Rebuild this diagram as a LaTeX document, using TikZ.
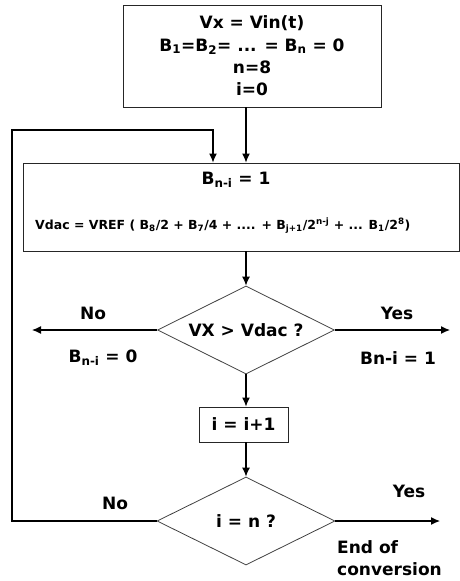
\documentclass[tikz,border=0pt]{standalone}
\usepackage{fontspec}
\setmainfont{DejaVu Sans}
\usetikzlibrary{shapes.geometric,arrows.meta}

\tikzset{
  box/.style={draw=black!85, line width=0.9pt, rectangle, inner sep=0pt},
  decision/.style={draw=black!75, line width=0.8pt, diamond, aspect=2, inner sep=0pt},
  flow/.style={line width=1.2pt, -{Latex[length=9pt,width=8pt]}},
  txt/.style={font=\fontsize{17}{22.3}\selectfont\bfseries, inner sep=0pt},
  small/.style={font=\fontsize{12.5}{15}\selectfont\bfseries, inner sep=0pt}
}

\begin{document}
\begin{tikzpicture}[x=1pt,y=-1pt]
    \useasboundingbox (0,0) rectangle (459,581);

    % start values
    \node [box, txt, minimum width=258pt, minimum height=102pt, align=center] (init) at (252,56)
        {Vx = Vin(t)\\B\textsubscript{1}=B\textsubscript{2}= ... = B\textsubscript{n} = 0\\n=8\\i=0};

    % set the bit, dac value
    \node [box, minimum width=436pt, minimum height=88pt] (setbit) at (241,207) {};
    \node [txt] (bitone) at (236,180) {B\textsubscript{n-i} = 1};
    \node [small, anchor=west] (vdac) at (35,226)
        {Vdac = VREF ( B\textsubscript{8}/2 + B\textsubscript{7}/4 + .... + B\textsubscript{j+1}/2\textsuperscript{n-j} + ... B\textsubscript{1}/2\textsuperscript{8})};

    % compare
    \node [decision, txt, minimum width=177pt, minimum height=88pt] (cmp) at (246,330) {VX > Vdac ?};
    \coordinate (noend) at (32,330);
    \coordinate (yesend) at (450,330);
    \node [txt] (nocmp) at (93,313) {No};
    \node [txt] (bitzero) at (103,358) {B\textsubscript{n-i} = 0};
    \node [txt] (yescmp) at (397,313) {Yes};
    \node [txt] (bitkeep) at (398,358) {Bn-i = 1};

    % next bit
    \node [box, txt, minimum width=89pt, minimum height=35pt] (incr) at (243.5,424.5) {i = i+1};

    % all bits done?
    \node [decision, txt, minimum width=178pt, minimum height=88pt] (last) at (246,521) {i = n ?};
    \coordinate (loopbot) at (12,521);
    \coordinate (looptop) at (12,130);
    \coordinate (loopin) at (213,130);
    \coordinate (done) at (440,521);
    \node [txt] (nolast) at (115,503) {No};
    \node [txt] (yeslast) at (409,491) {Yes};
    \node [txt, anchor=north west, align=left] (endconv) at (337,540) {End of\\conversion};

    \draw [flow] (init.south -| cmp) -- (setbit.north -| cmp);
    \draw [flow] (setbit.south -| cmp) -- (cmp.north);
    \draw [flow] (cmp.west) -- (noend);
    \draw [flow] (cmp.east) -- (yesend);
    \draw [flow] (cmp.south) -- (incr.north -| cmp);
    \draw [flow] (incr.south -| cmp) -- (last.north);
    \draw [flow] (last.west) -- (loopbot) -- (looptop) -- (loopin) -- (setbit.north -| loopin);
    \draw [flow] (last.east) -- (done);
\end{tikzpicture}
\end{document}
